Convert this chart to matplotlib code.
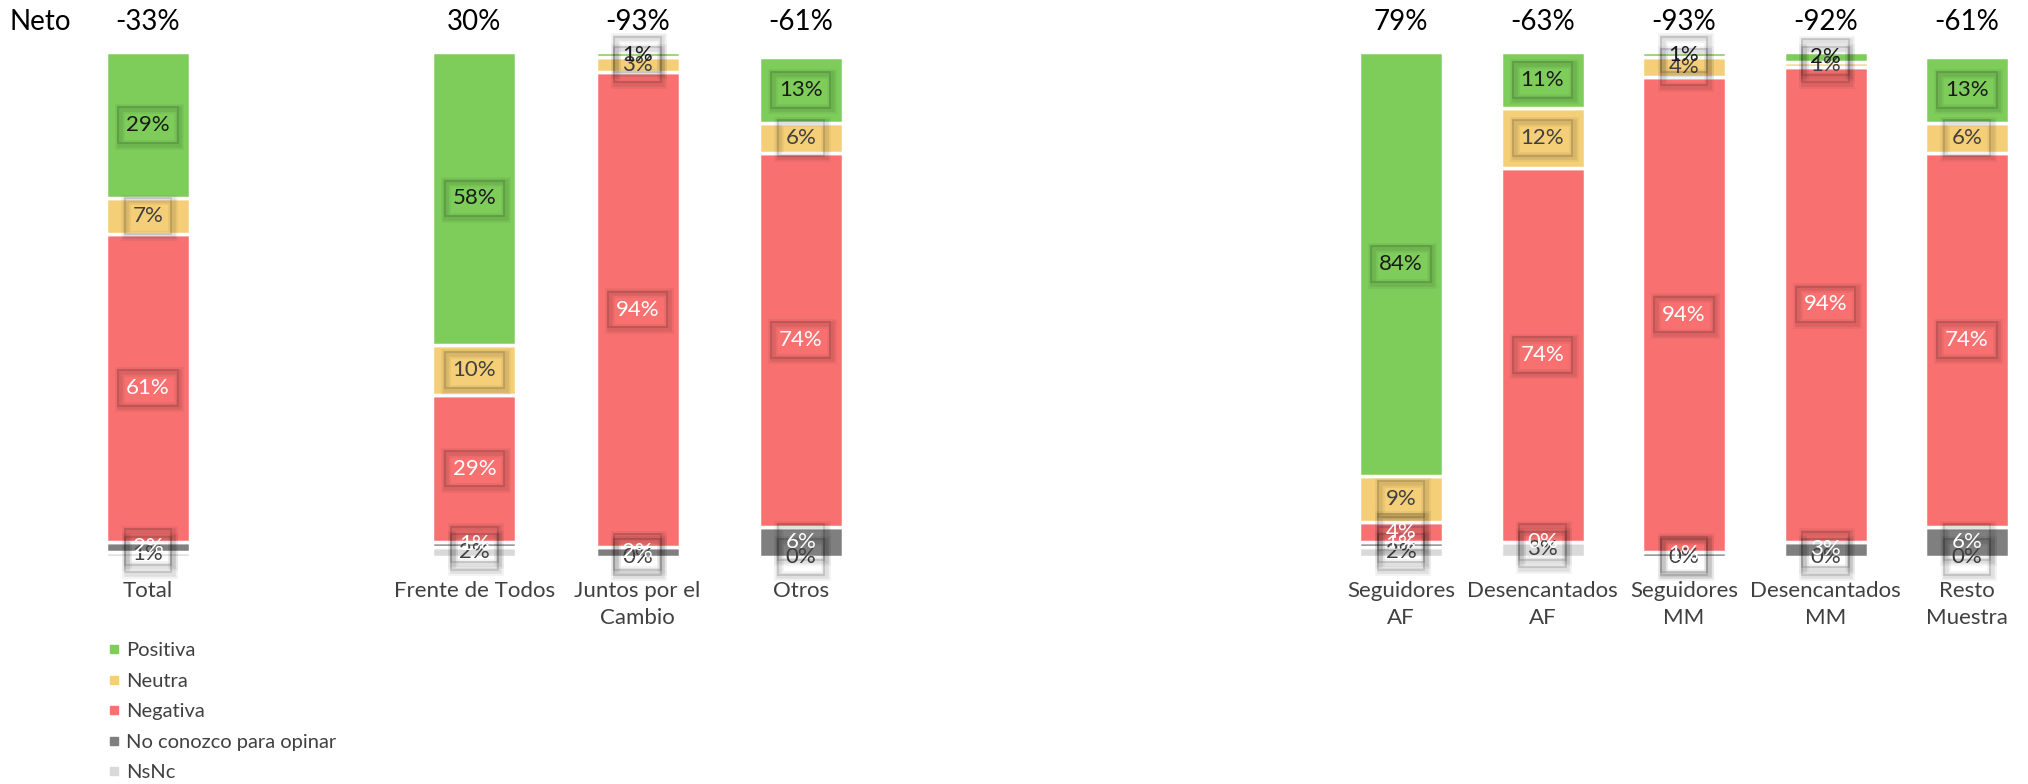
import matplotlib.pyplot as plt
import matplotlib.patheffects as pe
from matplotlib.lines import Line2D

plt.rcParams['font.family'] = ['Lato', 'DejaVu Sans']

# data
categorias = ["Total", "Frente de Todos", "Juntos por el\nCambio", "Otros",
              "Seguidores\nAF", "Desencantados\nAF", "Seguidores\nMM",
              "Desencantados\nMM", "Resto\nMuestra"]
series = ["Positiva", "Neutra", "Negativa", "No conozco para opinar", "NsNc"]
positiva = [29, 58, 1, 13, 84, 11, 1, 2, 13]
neutra = [7, 10, 3, 6, 9, 12, 4, 1, 6]
negativa = [61, 29, 94, 74, 4, 74, 94, 94, 74]
no_conozco = [2, 1, 2, 6, 1, 0, 1, 3, 6]
nsnc = [1, 2, 0, 0, 2, 3, 0, 0, 0]
neto = [-33, 30, -93, -61, 79, -63, -93, -92, -61]

colores = ['#7ECD5B', '#F5CF78', '#F87070', '#7F7F7F', '#D9D9D9']
color_texto = ['#1A1A1A', '#404040', 'white', 'white', '#404040']

W, H = 2028, 784
fig = plt.figure(figsize=(W / 100, H / 100), dpi=100)

def px_axes(x0, x1, ytop, ybot):
    return fig.add_axes([x0 / W, 1 - ybot / H, (x1 - x0) / W, (ybot - ytop) / H])

# soft shadow drawn around the transparent label box (Excel style)
sombra = [pe.Stroke(offset=(1.2, -1.2), linewidth=7, foreground=(0, 0, 0, 0.05)),
          pe.Stroke(offset=(1.2, -1.2), linewidth=4, foreground=(0, 0, 0, 0.07)),
          pe.Normal()]

def etiqueta(ax, x, y, txt, color):
    t = ax.text(x, y, txt, ha='center', va='center', fontsize=16, color=color,
                zorder=4, bbox=dict(boxstyle='square,pad=0.35', fc='none',
                                    ec=(0, 0, 0, 0.12), lw=1.5))
    t.get_bbox_patch().set_path_effects(sombra)

ytop, ybot = 52, 557
# left group: Total, (gap), three parties ; right group: five segments
slot_l = 163.2
ax_l = px_axes(148 - slot_l / 2, 148 - slot_l / 2 + 5 * slot_l, ytop, ybot)
ax_l.set_xlim(-0.5, 4.5)
slot_r = 141.5
x0r = 1401 - slot_r / 2
ax_r = px_axes(x0r, W, ytop, ybot)
ax_r.set_xlim(-0.5, -0.5 + (W - x0r) / slot_r)

grupos = [(ax_l, [0, 2, 3, 4], range(0, 4), 84 / slot_l),
          (ax_r, [0, 1, 2, 3, 4], range(4, 9), 84 / slot_r)]

valores = [positiva, neutra, negativa, no_conozco, nsnc]
orden = [4, 3, 2, 1, 0]  # stacked from the bottom: NsNc ... Positiva

for ax, xs, idx, ancho in grupos:
    idx = list(idx)
    base = [0] * len(idx)
    for s in orden:
        vals = [valores[s][i] for i in idx]
        ax.bar(xs, vals, ancho, bottom=base, color=colores[s],
               edgecolor='white', linewidth=2.5, zorder=2)
        for x, b, v in zip(xs, base, vals):
            etiqueta(ax, x, b + v / 2, f"{v}%", color_texto[s])
        base = [b + v for b, v in zip(base, vals)]
    for x, i in zip(xs, idx):
        ax.text(x, 106, f"{neto[i]}%", ha='center', va='center',
                fontsize=20, color='black', clip_on=False)
    ax.set_xticks(xs)
    ax.set_xticklabels([categorias[i] for i in idx], fontsize=16,
                       color='#404040', linespacing=1.45)
    ax.tick_params(axis='x', length=0, pad=17)
    ax.set_ylim(0, 100)
    ax.set_yticks([])
    for sp in ax.spines.values():
        sp.set_visible(False)

fig.text(10 / W, 1 - 22 / H, "Neto", fontsize=20, va='center', ha='left')

handles = [Line2D([], [], marker='s', linestyle='none', markersize=6,
                  color=c) for c in colores]
fig.legend(handles, series, loc='upper left',
           bbox_to_anchor=(104 / W, 1 - 642 / H), frameon=False,
           fontsize=14.5, labelspacing=0.67, handletextpad=0.1,
           handlelength=1.0, borderaxespad=0, borderpad=0,
           labelcolor='#404040')

fig.savefig('out.png', dpi=100)
